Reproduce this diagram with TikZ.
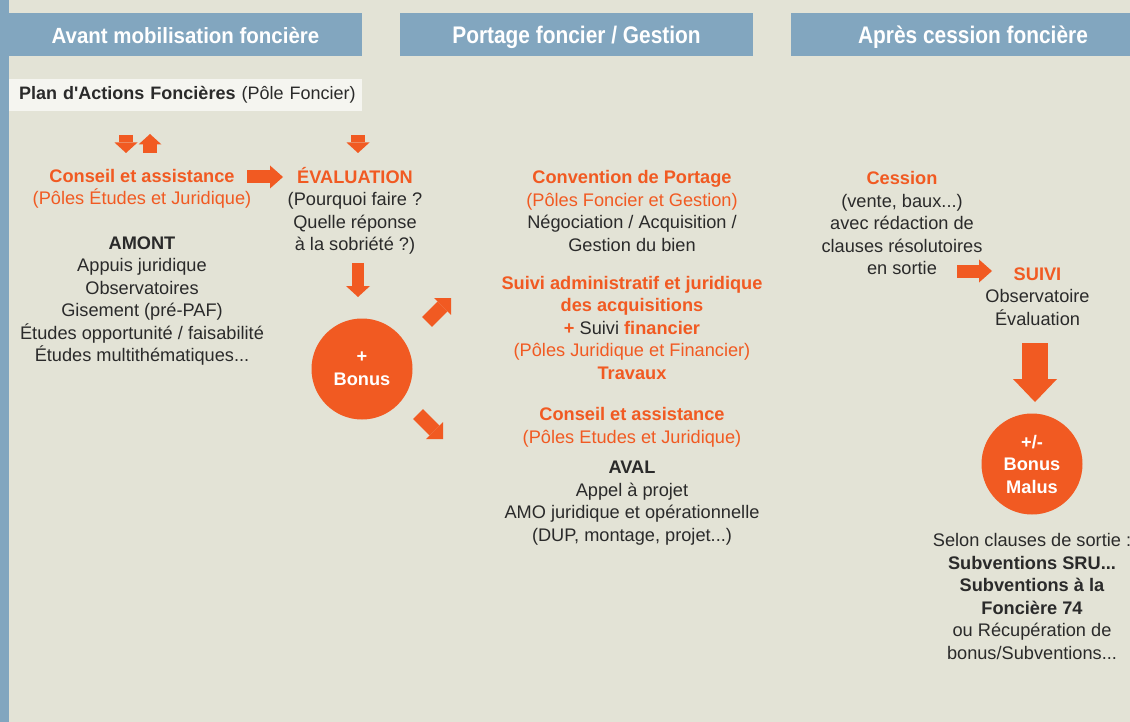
\documentclass[tikz,border=0pt]{standalone}
\usepackage{fontspec}
\setmainfont{Liberation Sans}
\newfontfamily\headfont[FakeStretch=0.93]{Liberation Sans}
\newfontfamily\condfont[FakeStretch=0.87]{Liberation Sans}
\usetikzlibrary{arrows.meta}
\definecolor{bgbeige}{HTML}{E3E3D6}
\definecolor{hdrblue}{HTML}{82A6BF}
\definecolor{fonorange}{HTML}{F15A22}
\definecolor{txtdark}{HTML}{2A2A2A}
\definecolor{planbg}{HTML}{F5F5F0}
\newcommand{\orb}[1]{\textcolor{fonorange}{\textbf{#1}}}
\newcommand{\oreg}[1]{\textcolor{fonorange}{#1}}
\begin{document}
\begin{tikzpicture}[x=1pt, y=-1pt, font=\fontsize{18.2}{22.5}\selectfont,
          header/.style={fill=hdrblue, text=white, minimum height=43pt, inner sep=0pt,
            text height=21pt, text depth=3pt, font=\fontsize{22}{26}\selectfont\headfont\bfseries},
          condheader/.style={header, font=\fontsize{24}{28}\selectfont\condfont\bfseries},
          txt/.style={align=center, inner sep=0pt, text=txtdark},
          planbox/.style={fill=planbg, anchor=west, minimum height=32pt, inner xsep=10pt,
            inner ysep=0pt, text width=333pt, align=left, text=txtdark,
            font=\fontsize{18}{22.5}\selectfont},
          bonuscirc/.style={circle, fill=fonorange, minimum size=101pt, inner sep=0pt,
            align=center, text=white, font=\fontsize{18.2}{22.5}\selectfont\bfseries},
          arrowsm/.style={draw=fonorange, line width=13.5pt, -{Triangle[width=23pt, length=10.5pt, line width=0pt]}},
          arrowmd/.style={draw=fonorange, line width=13pt, -{Triangle[width=23pt, length=13pt, line width=0pt]}},
          arrowdn/.style={draw=fonorange, line width=12pt, -{Triangle[width=24pt, length=11pt, line width=0pt]}},
          arrowdg/.style={draw=fonorange, line width=14pt, -{Triangle[width=24pt, length=12pt, line width=0pt]}},
          arrowlg/.style={draw=fonorange, line width=26pt, -{Triangle[width=44pt, length=23pt, line width=0pt]}}]
        \clip (0,0) rectangle (1130,722);
        \fill[bgbeige] (0,0) rectangle (1130,722);
        \fill[hdrblue] (0,0) rectangle (9,722);
        \node[header, minimum width=353pt] (hdrAvant) at (185.5,34.5) {Avant mobilisation foncière};
        \node[condheader, minimum width=353pt] (hdrPortage) at (576.5,34.5) {Portage foncier / Gestion};
        \node[condheader, minimum width=364pt] (hdrApres) at (973,34.5) {Après cession foncière};
        \node[planbox] (plan) at (9,95) {\mbox{\textbf{Plan d\textquotesingle Actions Foncières} (Pôle Foncier)}};
        \node[txt] (conseilA) at (142,189) {\orb{Conseil et assistance}\\\oreg{(Pôles Études et Juridique)}};
        \node[txt] (amont) at (142,301) {\textbf{AMONT}\\Appuis juridique\\Observatoires\\Gisement (pré-PAF)\\Études opportunité / faisabilité\\Études multithématiques...};
        \node[txt] (evaluation) at (355,211) {\orb{ÉVALUATION}\\(Pourquoi faire ?\\Quelle réponse\\à la sobriété ?)};
        \node[bonuscirc] (bonus) at (362,369) {+\\Bonus};
        \node[txt] (convention) at (632,211) {\orb{Convention de Portage}\\\oreg{(Pôles Foncier et Gestion)}\\Négociation / Acquisition /\\Gestion du bien};
        \node[txt] (suiviAdm) at (632,327.5) {\orb{Suivi administratif et juridique}\\\orb{des acquisitions}\\\orb{+} Suivi \orb{financier}\\\oreg{(Pôles Juridique et Financier)}\\\orb{Travaux}};
        \node[txt] (conseilB) at (632,427.5) {\orb{Conseil et assistance}\\\oreg{(Pôles Etudes et Juridique)}};
        \node[txt] (aval) at (632,503) {\textbf{AVAL}\\Appel à projet\\AMO juridique et opérationnelle\\(DUP, montage, projet...)};
        \node[txt] (cession) at (902,223) {\orb{Cession}\\(vente, baux...)\\avec rédaction de\\clauses résolutoires\\en sortie};
        \node[txt] (suiviObs) at (1037.5,296.5) {\orb{SUIVI}\\Observatoire\\Évaluation};
        \node[bonuscirc] (malus) at (1032,464) {+/-\\Bonus\\Malus};
        \node[txt] (selon) at (1032,596.5) {Selon clauses de sortie :\\\textbf{Subventions SRU...}\\\textbf{Subventions à la}\\\textbf{Foncière 74}\\ou Récupération de\\bonus/Subventions...};
        \coordinate (planDn0) at (126,135);
        \coordinate (planDn1) at (126,153);
        \coordinate (planUp0) at (150,153);
        \coordinate (planUp1) at (150,134);
        \coordinate (evalDn0) at (358,135);
        \coordinate (evalDn1) at (358,153);
        \coordinate (toEval0) at (247,177);
        \coordinate (toEval1) at (283,177);
        \coordinate (toBonus0) at (358,263);
        \coordinate (toBonus1) at (358,297);
        \coordinate (toSuiviAdm0) at (427,322);
        \coordinate (toSuiviAdm1) at (451,298);
        \coordinate (toConseil0) at (418,414);
        \coordinate (toConseil1) at (443,439);
        \coordinate (toSuivi0) at (957,271);
        \coordinate (toSuivi1) at (992,271);
        \coordinate (toMalus0) at (1035,343);
        \coordinate (toMalus1) at (1035,402);
        \draw[arrowsm] (planDn0) -- (planDn1);
        \draw[arrowsm] (planUp0) -- (planUp1);
        \draw[arrowsm] (evalDn0) -- (evalDn1);
        \draw[arrowmd] (toEval0) -- (toEval1);
        \draw[arrowdn] (toBonus0) -- (toBonus1);
        \draw[arrowdg] (toSuiviAdm0) -- (toSuiviAdm1);
        \draw[arrowdg] (toConseil0) -- (toConseil1);
        \draw[arrowmd] (toSuivi0) -- (toSuivi1);
        \draw[arrowlg] (toMalus0) -- (toMalus1);
      \end{tikzpicture}
\end{document}
